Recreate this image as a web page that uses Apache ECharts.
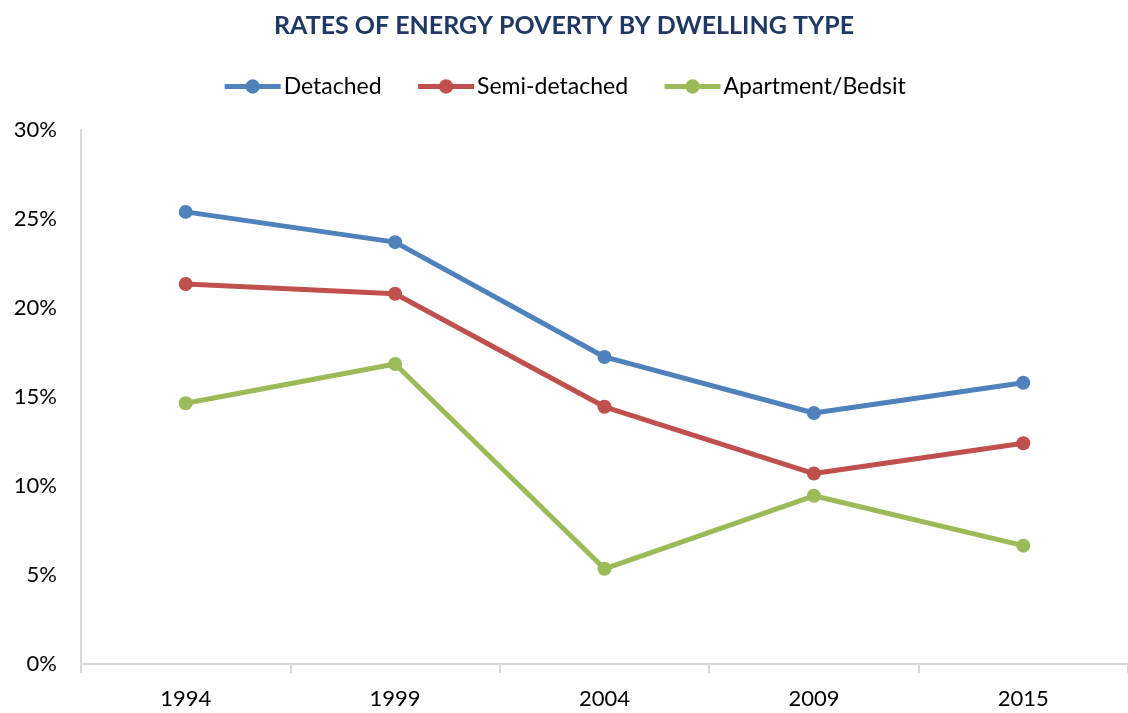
<!DOCTYPE html>
<html><head><meta charset="utf-8">
<script src="https://cdn.jsdelivr.net/npm/echarts@6/dist/echarts.min.js"></script>
<style>html,body{margin:0;padding:0;background:#fff}#c{width:1128px;height:713px}</style>
</head><body><div id="c"></div>
<script>
const categories = ['1994','1999','2004','2009','2015'];
const detached = [25.4, 23.7, 17.25, 14.1, 15.8];
const semiDetached = [21.35, 20.8, 14.45, 10.7, 12.4];
const apartment = [14.65, 16.85, 5.35, 9.45, 6.65];
const yTicks = [0, 5, 10, 15, 20, 25, 30];

const font = 'Lato, "Liberation Sans", sans-serif';
function mk(name, data, color) {
  return {
    name, type: 'line', data, color,
    symbol: 'circle', symbolSize: 14,
    lineStyle: { width: 5, color },
    itemStyle: { color },
    emphasis: { disabled: true }
  };
}
const chart = echarts.init(document.getElementById('c'));
chart.setOption({
  animation: false,
  title: {
    text: 'RATES OF ENERGY POVERTY BY DWELLING TYPE',
    left: 'center', top: 8,
    textStyle: { fontFamily: font, fontWeight: 'bold', fontSize: 25, color: '#1F3864' }
  },
  legend: {
    top: 70, left: 'center', itemWidth: 56, itemHeight: 18, itemGap: 34,
    textStyle: { fontFamily: font, fontSize: 23, color: '#000', padding: [0, 0, 0, -2] },
    lineStyle: { width: 5 },
    data: ['Detached', 'Semi-detached', 'Apartment/Bedsit']
  },
  grid: { left: 81, top: 130, width: 1050, bottom: 49 },
  xAxis: {
    type: 'category', data: categories, boundaryGap: true,
    axisLine: { lineStyle: { color: '#d9d9d9', width: 2 } },
    axisTick: { show: true, length: 9, lineStyle: { color: '#d9d9d9', width: 2 } },
    axisLabel: { fontFamily: font, fontSize: 22, color: '#000', margin: 24 }
  },
  yAxis: {
    type: 'value', min: yTicks[0], max: yTicks[yTicks.length - 1], interval: 5,
    axisLine: { show: true, lineStyle: { color: '#d9d9d9', width: 2 } },
    axisTick: { show: false },
    splitLine: { show: false },
    axisLabel: { fontFamily: font, fontSize: 22, color: '#000', margin: 24, formatter: v => v + '%' }
  },
  series: [
    mk('Detached', detached, '#4F81BD'),
    mk('Semi-detached', semiDetached, '#C0504D'),
    mk('Apartment/Bedsit', apartment, '#9BBB59')
  ]
});
</script></body></html>
